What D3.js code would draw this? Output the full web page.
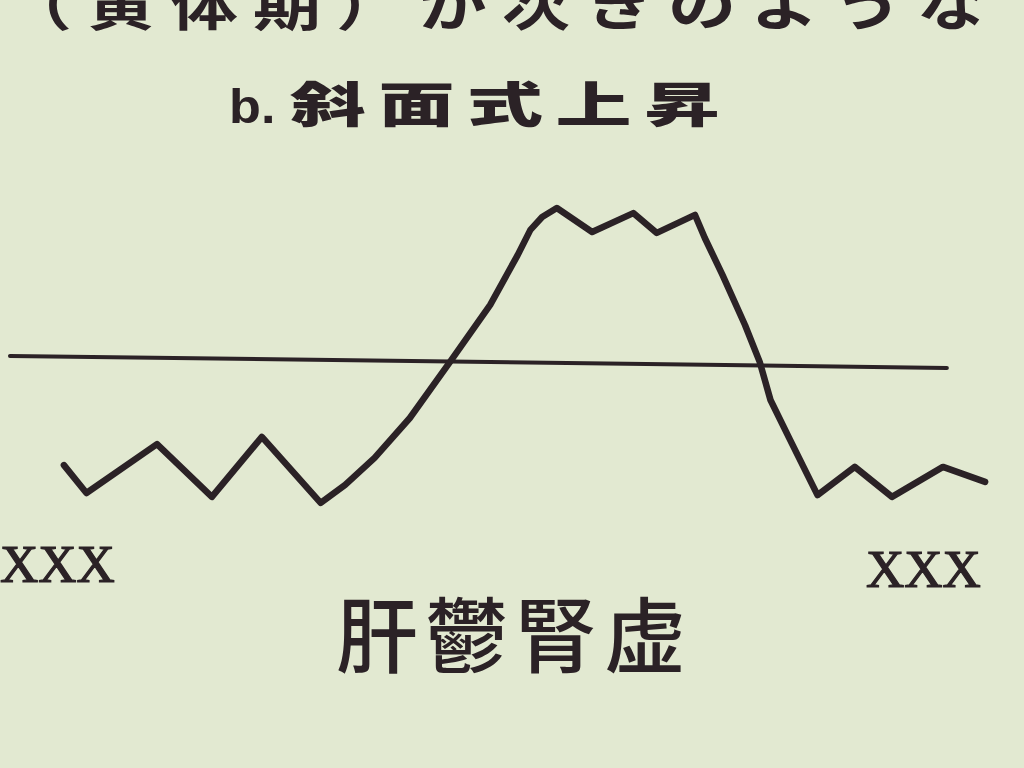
<!DOCTYPE html>
<html>
<head>
<meta charset="utf-8">
<script src="https://cdn.jsdelivr.net/npm/d3@7"></script>
<style>
  html, body { margin: 0; padding: 0; background: #e2e9d1; }
  svg { display: block; }
</style>
</head>
<body>
<svg id="chart" width="1024" height="768"></svg>
<script>
// ---- data ----
const xPos   = [5.5, 7.8, 15.0, 20.6, 25.7, 31.7, 34.2, 37.2, 40.8, 44.9, 49.0, 51.8, 53.1, 54.3, 55.8, 59.4, 63.6, 66.0, 69.9, 70.9, 72.7, 75.0, 76.5, 77.6, 79.6, 82.4, 86.2, 90.0, 95.2, 99.5];
const values = [13.3, 4.0, 20.3, 2.7, 22.7, 0.7, 6.7, 15.7, 29.0, 47.7, 66.7, 83.3, 91.7, 96.0, 99.0, 91.0, 97.3, 90.7, 96.7, 89.0, 76.7, 60.0, 47.7, 35.0, 21.7, 3.3, 12.7, 2.7, 12.7, 7.7];
const refX   = [0, 95.6];
const refV   = [49.7, 45.7];
const headerText = "（黄体期）が次きのような";
const titlePrefix = "b.";
const titleText = "斜面式上昇";
const endLabels = ["XXX", "XXX"];
const bottomLabel = "肝鬱腎虚";

// ---- drawing ----
const ink = "#2b2226";
const svg = d3.select("#chart");

svg.append("rect").attr("width", 1024).attr("height", 768).attr("fill", "#e2e9d1");

const x = d3.scaleLinear().domain([0, 100]).range([10, 990]);
const y = d3.scaleLinear().domain([0, 100]).range([505, 205]);

// header (cut off at the top, as in the photographed page)
svg.append("text")
  .attr("transform", "translate(4,25) scale(1,0.8)")
  .attr("font-family", "'Noto Sans CJK JP'")
  .attr("font-weight", 700)
  .attr("font-size", 68)
  .attr("letter-spacing", 15)
  .attr("fill", ink)
  .text(headerText);

// title
svg.append("text")
  .attr("transform", "translate(229,123) scale(0.9,0.82)")
  .attr("font-family", "'Liberation Sans'")
  .attr("font-weight", 700)
  .attr("font-size", 58)
  .attr("fill", ink)
  .text(titlePrefix);
svg.append("text")
  .attr("transform", "translate(290,122) scale(1,0.63)")
  .attr("font-family", "'Noto Sans CJK JP'")
  .attr("font-weight", 900)
  .attr("font-size", 76)
  .attr("textLength", 430)
  .attr("lengthAdjust", "spacing")
  .attr("fill", ink)
  .text(titleText);

// reference line
const refData = refX.map((d, i) => ({ x: d, v: refV[i] }));
svg.append("path")
  .datum(refData)
  .attr("fill", "none")
  .attr("stroke", ink)
  .attr("stroke-width", 4)
  .attr("stroke-linecap", "round")
  .attr("d", d3.line().x(d => x(d.x)).y(d => y(d.v)));

// curve
const data = xPos.map((d, i) => ({ x: d, v: values[i] }));
svg.append("path")
  .datum(data)
  .attr("fill", "none")
  .attr("stroke", ink)
  .attr("stroke-width", 6.5)
  .attr("stroke-linejoin", "round")
  .attr("stroke-linecap", "round")
  .attr("d", d3.line().x(d => x(d.x)).y(d => y(d.v)));

// end labels
const endPos = [{ tx: 0, ty: 582 }, { tx: 866, ty: 587 }];
svg.selectAll("text.end")
  .data(endLabels)
  .join("text")
  .attr("class", "end")
  .attr("x", (d, i) => endPos[i].tx)
  .attr("y", (d, i) => endPos[i].ty)
  .attr("font-family", "'Liberation Serif'")
  .attr("font-size", 53)
  .attr("fill", ink)
  .attr("stroke", ink)
  .attr("stroke-width", 1.2)
  .text(d => d);

// bottom label
svg.append("text")
  .attr("x", 336)
  .attr("y", 666)
  .attr("font-family", "'Noto Sans CJK JP'")
  .attr("font-weight", 500)
  .attr("font-size", 82)
  .attr("textLength", 350)
  .attr("lengthAdjust", "spacing")
  .attr("fill", ink)
  .text(bottomLabel);
</script>
</body>
</html>
